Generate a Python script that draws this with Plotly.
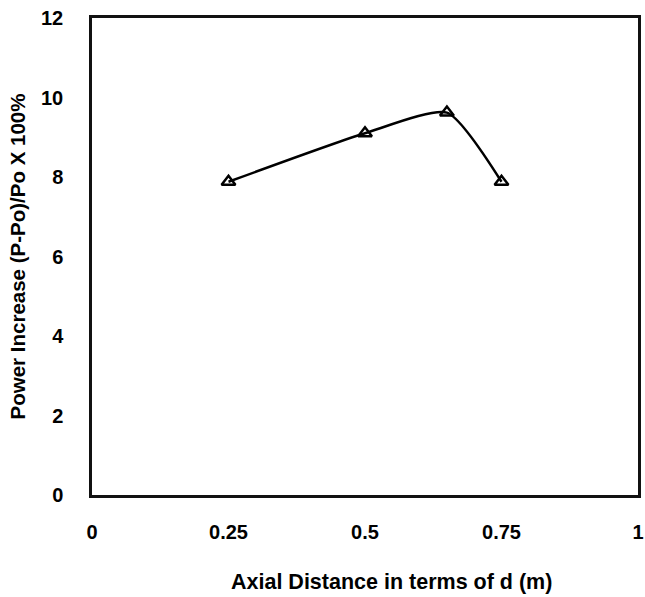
import plotly.graph_objects as go

x_vals = [0.25, 0.5, 0.65, 0.75]
y_vals = [7.88, 9.1, 9.62, 7.88]
x_ticks = [0, 0.25, 0.5, 0.75, 1]
x_tick_text = ["0", "0.25", "0.5", "0.75", "1"]
y_ticks = [0, 2, 4, 6, 8, 10, 12]
x_title = "Axial Distance in terms of d (m)"
y_title = "Power Increase (P-Po)/Po X 100%"

fig = go.Figure()
fig.add_trace(go.Scatter(
    x=x_vals, y=y_vals, mode="lines+markers",
    line=dict(color="black", width=2.5, shape="spline", smoothing=0.6),
    marker=dict(symbol="triangle-up-open", size=12, color="black",
                line=dict(width=2.5, color="black")),
    showlegend=False,
))

fig.update_layout(
    width=645, height=597,
    margin=dict(l=92, r=7, t=18, b=102),
    paper_bgcolor="white", plot_bgcolor="white",
    font=dict(family="Liberation Sans, Arial", color="black"),
    xaxis=dict(
        range=[0, 1], tickvals=x_ticks, ticktext=x_tick_text,
        showgrid=False, zeroline=False, automargin=False,
        ticklabeloverflow="allow",
        showline=True, linecolor="#111", linewidth=2.5, mirror=True,
        ticks="outside", ticklen=17, tickcolor="rgba(0,0,0,0)",
        tickfont=dict(size=20, weight="bold"),
    ),
    yaxis=dict(
        range=[0, 12], tickvals=y_ticks,
        showgrid=False, zeroline=False, automargin=False,
        showline=True, linecolor="#111", linewidth=2.5, mirror=True,
        ticks="outside", ticklen=22, tickcolor="rgba(0,0,0,0)",
        tickfont=dict(size=20, weight="bold"),
        title=dict(text="<b>" + y_title + "</b>",
                   font=dict(size=20.5), standoff=10),
    ),
    annotations=[dict(
        text="<b>" + x_title + "</b>", xref="paper", yref="paper",
        x=0.548, y=-0.182, xanchor="center", yanchor="middle",
        showarrow=False, font=dict(size=21.5, color="black"),
    )],
)

fig.write_html("out.html", config={"displayModeBar": False},
               post_script="document.body.style.margin='0';")
